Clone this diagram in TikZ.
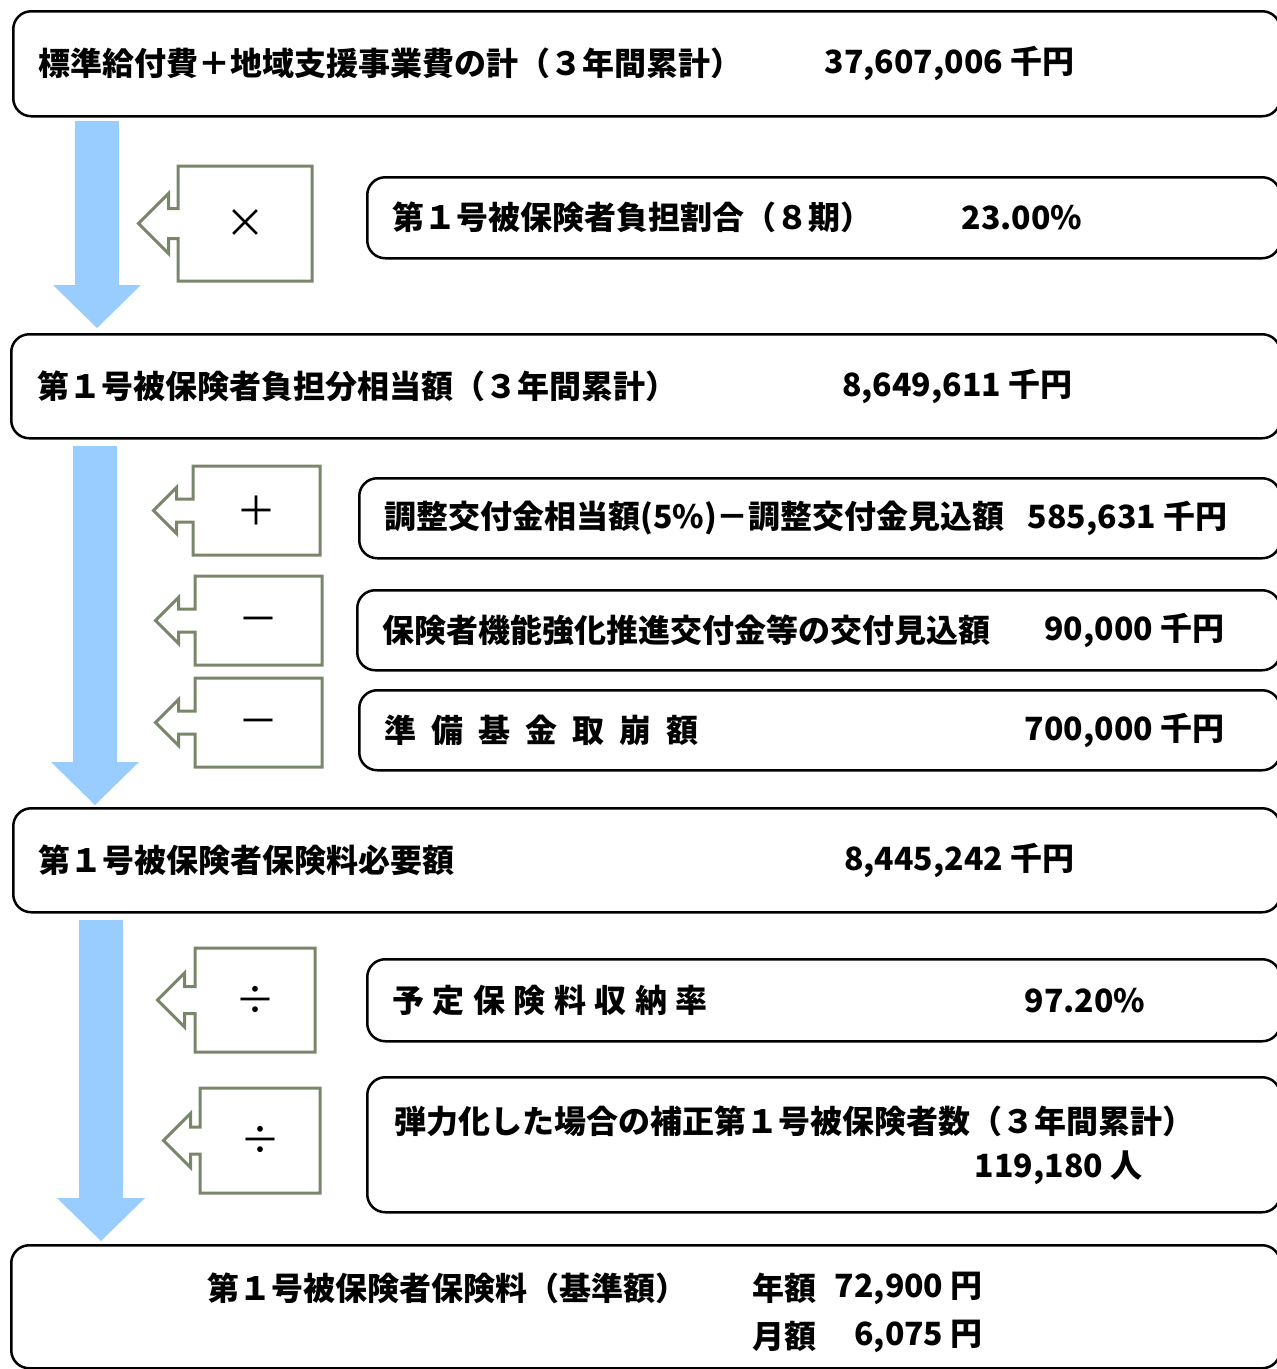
\documentclass[tikz,border=0pt]{standalone}
\usepackage{fontspec}
\newfontfamily\jpfont{Noto Sans CJK JP}
\usetikzlibrary{shapes.arrows, arrows.meta, positioning}
\definecolor{flowblue}{HTML}{99CCFF}
\definecolor{opgreen}{HTML}{7A866A}
\newcommand{\jpbold}{\jpfont\bfseries\fontsize{32}{37}\selectfont}
\tikzstyle{stage} = [rectangle, rounded corners=18pt, draw=black, line width=2.5pt, anchor=north west, inner sep=0pt]
\tikzstyle{op} = [arrow box, draw=opgreen, line width=3pt, inner sep=0pt, font=\jpfont\fontsize{40}{40}\selectfont]
\tikzstyle{txt} = [inner sep=0pt, anchor=west, font=\jpbold]
\tikzstyle{num} = [txt, anchor=east]
\tikzstyle{flow} = [line width=44pt, draw=flowblue, -{Triangle[length=43pt, width=88pt, line width=0pt]}]

\begin{document}
\begin{tikzpicture}[x=1pt, y=-1pt]
			\useasboundingbox (0,0) rectangle (1277,1369);
			% totals
			\node (total) [stage, minimum width=1267pt, minimum height=105pt] at (12,10) {};
			\node (totaltxt) [txt, right=26pt of total.west] {標準給付費＋地域支援事業費の計（３年間累計）};
			\node (totalval) [num, left=207pt of total.east] {37,607,006 千円};
			\node (rate) [stage, minimum width=913pt, minimum height=81pt] at (366,176) {};
			\node (ratetxt) [txt, right=26pt of rate.west] {第１号被保険者負担割合（８期）};
			\node (rateval) [num, left=199pt of rate.east] {23.00\%};
			\node (times) [op, minimum width=134pt, minimum height=115pt, arrow box shaft width=30pt, arrow box head extend=15pt, arrow box arrows={west:38pt from border}] at (245,223.5) {×};
			\node (share) [stage, minimum width=1269pt, minimum height=104pt] at (10,333) {};
			\node (sharetxt) [txt, right=27pt of share.west] {第１号被保険者負担分相当額（３年間累計）};
			\node (shareval) [num, left=209pt of share.east] {8,649,611 千円};
			% adjustments
			\node (adj) [stage, minimum width=921pt, minimum height=80pt] at (358,477) {};
			\node (adjtxt) [txt, right=26pt of adj.west] {調整交付金相当額(5\%)－調整交付金見込額};
			\node (adjval) [num, left=54pt of adj.east] {585,631 千円};
			\node (grant) [stage, minimum width=923pt, minimum height=80pt] at (356,589) {};
			\node (granttxt) [txt, right=26pt of grant.west] {保険者機能強化推進交付金等の交付見込額};
			\node (grantval) [num, left=57pt of grant.east] {90,000 千円};
			\node (fund) [stage, minimum width=921pt, minimum height=80pt] at (358,689) {};
			\node (fundtxt) [txt, right=26pt of fund.west, font={\jpbold\spaceskip=15pt\relax}] {準 備 基 金 取 崩 額};
			\node (fundval) [num, left=57pt of fund.east] {700,000 千円};
			\node (plus) [op, minimum width=127pt, minimum height=89pt, arrow box shaft width=23pt, arrow box head extend=11.5pt, arrow box arrows={west:38pt from border}] at (256.5,510.5) {＋};
			\node (minusa) [op, minimum width=127pt, minimum height=89pt, arrow box shaft width=23pt, arrow box head extend=11.5pt, arrow box arrows={west:38pt from border}] at (258.5,620.5) {\raisebox{-13pt}[0pt][0pt]{－}};
			\node (minusb) [op, minimum width=127pt, minimum height=89pt, arrow box shaft width=23pt, arrow box head extend=11.5pt, arrow box arrows={west:38pt from border}] at (258.5,722.5) {\raisebox{-13pt}[0pt][0pt]{－}};
			\node (need) [stage, minimum width=1267pt, minimum height=104pt] at (12,807) {};
			\node (needtxt) [txt, right=26pt of need.west] {第１号被保険者保険料必要額};
			\node (needval) [num, left=207pt of need.east] {8,445,242 千円};
			% divisors
			\node (collect) [stage, minimum width=913pt, minimum height=82pt] at (366,958) {};
			\node (collecttxt) [txt, right=26pt of collect.west, font={\jpbold\spaceskip=8.5pt\relax}] {予 定 保 険 料 収 納 率};
			\node (collectval) [num, left=136pt of collect.east] {97.20\%};
			\node (insured) [stage, minimum width=913pt, minimum height=135pt] at (366,1076) {};
			\node (insuredtxt) [txt] at ([xshift=28pt, yshift=23.5pt]insured.west) {弾力化した場合の補正第１号被保険者数（３年間累計）};
			\node (insuredval) [num] at ([xshift=-139pt, yshift=-23.5pt]insured.east) {119,180 人};
			\node (diva) [op, minimum width=120pt, minimum height=104pt, arrow box shaft width=27pt, arrow box head extend=13.5pt, arrow box arrows={west:36pt from border}] at (255,1000) {\raisebox{-3pt}{÷}};
			\node (divb) [op, minimum width=120pt, minimum height=105pt, arrow box shaft width=27pt, arrow box head extend=13.5pt, arrow box arrows={west:35pt from border}] at (260,1140.5) {\raisebox{-3pt}{÷}};
			% result
			\node (fee) [stage, minimum width=1269pt, minimum height=123pt] at (10,1244) {};
			\node (feetxt) [txt] at ([xshift=197pt, yshift=18.5pt]fee.west) {第１号被保険者保険料（基準額）};
			\node (year) [txt] at ([xshift=742pt, yshift=18.5pt]fee.west) {年額};
			\node (yearval) [num] at ([xshift=973pt, yshift=18.5pt]fee.west) {72,900 円};
			\node (month) [txt] at ([xshift=742pt, yshift=-29.5pt]fee.west) {月額};
			\node (monthval) [num] at ([xshift=973pt, yshift=-29.5pt]fee.west) {6,075 円};
			% flow arrows
			\draw [flow] ([xshift=85pt, yshift=-3pt]total.south west) -- ([xshift=87pt, yshift=5pt]share.north west);
			\draw [flow] ([xshift=85pt, yshift=-6pt]share.south west) -- ([xshift=83pt, yshift=2pt]need.north west);
			\draw [flow] ([xshift=89pt, yshift=-6pt]need.south west) -- ([xshift=91pt, yshift=3pt]fee.north west);
		\end{tikzpicture}
\end{document}
